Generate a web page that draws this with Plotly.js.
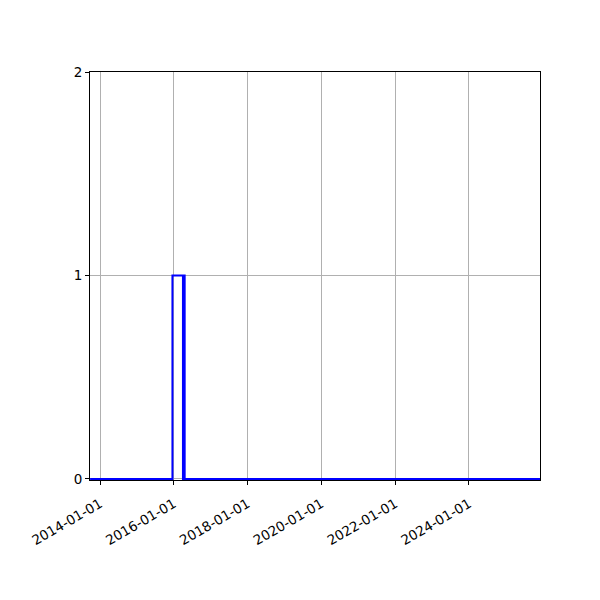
<!DOCTYPE html>
<html>
<head>
<meta charset="utf-8">
<script src="https://cdn.plot.ly/plotly-3.0.1.min.js"></script>
<style>body{margin:0;background:#fff}</style>
</head>
<body>
<div id="chart" style="width:600px;height:600px"></div>
<script>
// step series
var dates = ["2013-09-25", "2015-12-19", "2016-04-01", "2016-04-10", "2016-04-18", "2025-12-04"];
var values = [0, 1, 0, 1, 0, 0];
var tickDates = ["2014-01-01", "2016-01-01", "2018-01-01", "2020-01-01", "2022-01-01", "2024-01-01"];
var yTicks = [0, 1, 2];

var trace = {
    x: dates,
    y: values,
    type: 'scatter',
    mode: 'lines',
    line: { shape: 'hv', color: 'blue', width: 2 },
    showlegend: false
};

var layout = {
    width: 600,
    height: 600,
    margin: { l: 90, r: 60, t: 72, b: 120 },
    paper_bgcolor: 'white',
    plot_bgcolor: 'white',
    font: { family: 'DejaVu Sans', size: 13.5, color: 'black' },
    xaxis: {
        type: 'date',
        range: ["2013-09-24", "2025-12-04"],
        tickvals: tickDates,
        ticktext: tickDates,
        tickangle: -30,
        ticks: 'outside',
        ticklen: 4,
        tickcolor: 'black',
        ticklabelstandoff: 6,
        showgrid: true,
        gridcolor: '#b0b0b0',
        gridwidth: 1,
        showline: true,
        linecolor: 'black',
        linewidth: 1,
        mirror: true,
        zeroline: false,
        layer: 'below traces'
    },
    yaxis: {
        // tiny pad below zero so the baseline of the step line stays visible over the frame
        range: [-0.005, 2],
        tickvals: yTicks,
        ticks: 'outside',
        ticklen: 4,
        tickcolor: 'black',
        showgrid: true,
        gridcolor: '#b0b0b0',
        gridwidth: 1,
        showline: true,
        linecolor: 'black',
        linewidth: 1,
        mirror: true,
        zeroline: false,
        layer: 'below traces'
    }
};

var config = { responsive: false, displayModeBar: false, staticPlot: true };

Plotly.newPlot(document.getElementById('chart'), [trace], layout, config);
</script>
</body>
</html>
